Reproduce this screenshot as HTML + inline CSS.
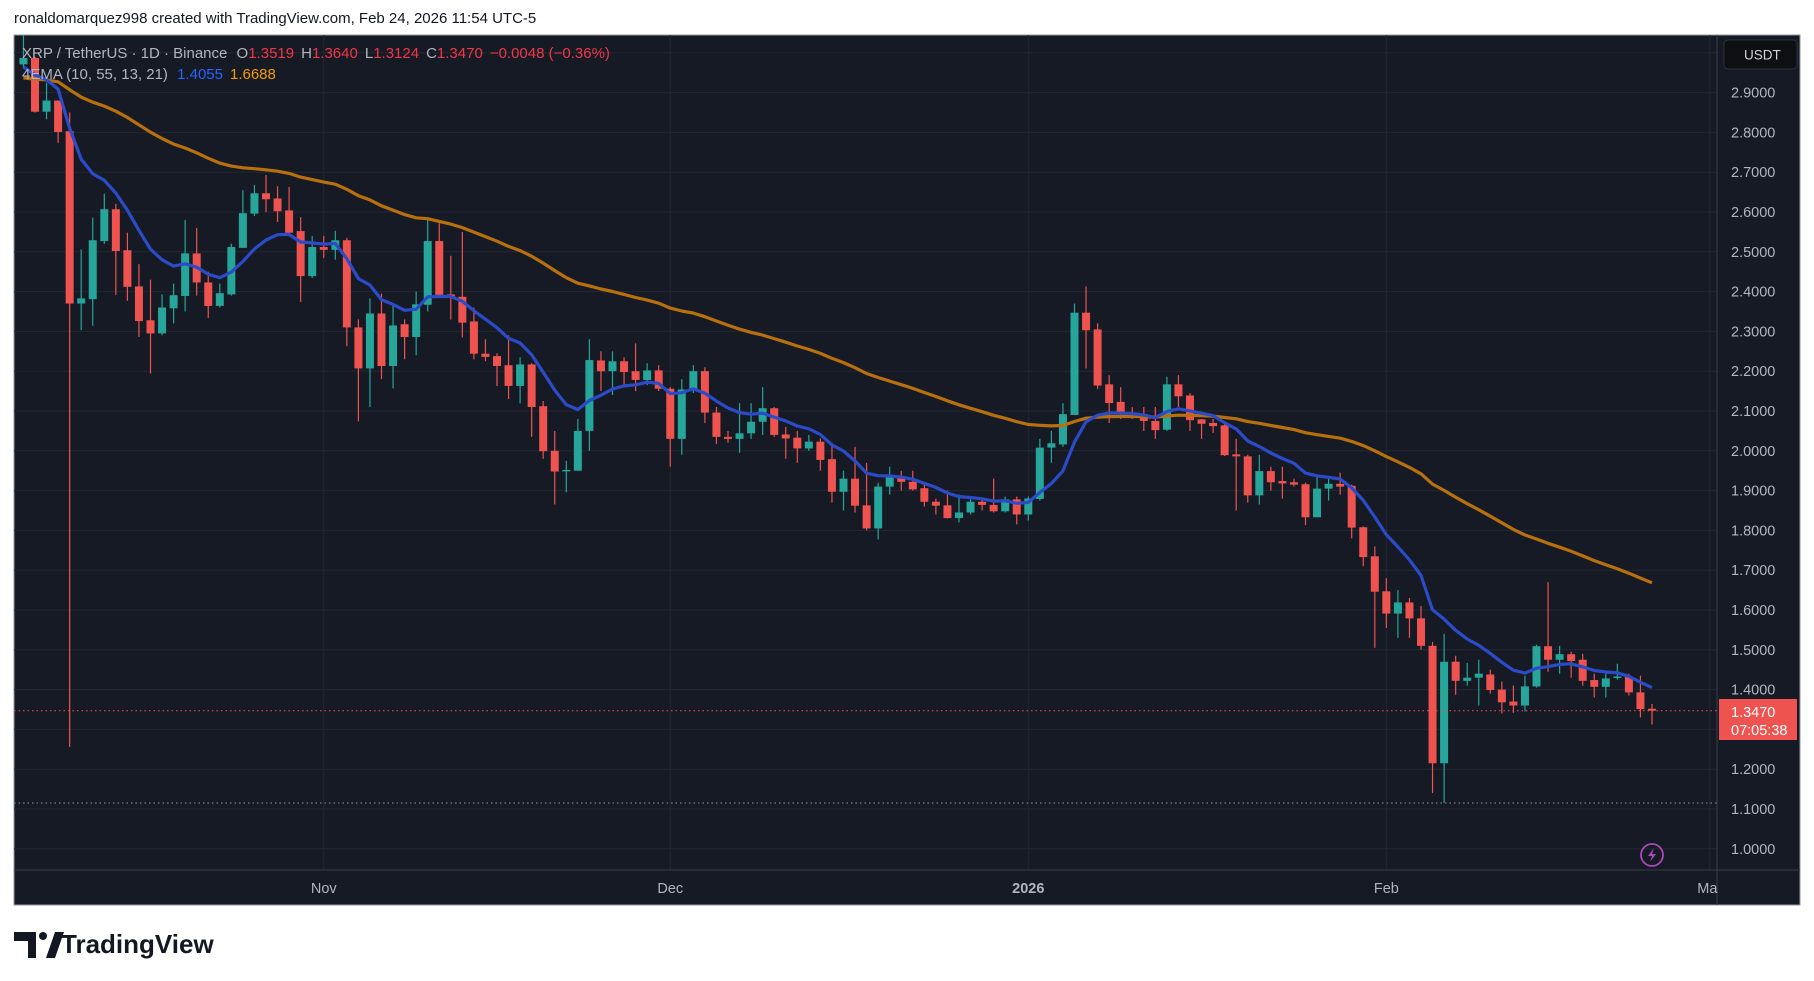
<!DOCTYPE html>
<html><head><meta charset="utf-8">
<style>
html,body{margin:0;padding:0;background:#fff;width:1814px;height:981px;overflow:hidden;font-family:"Liberation Sans",sans-serif;}
#hdr{position:absolute;left:14px;top:10px;font-size:15px;color:#131722;}
svg{position:absolute;left:0;top:0;}
</style></head><body>
<div id="hdr">ronaldomarquez998 created with TradingView.com, Feb 24, 2026 11:54 UTC-5</div>
<svg id="s" width="1814" height="981" xmlns="http://www.w3.org/2000/svg"></svg>
<script>
const D=[
[2.971,3.046,2.96,2.987],[2.987,2.99,2.85,2.852],[2.852,2.925,2.833,2.880],[2.880,2.88,2.774,2.801],[2.803,2.85,1.256,2.370],
[2.370,2.506,2.303,2.383],[2.381,2.586,2.314,2.529],[2.527,2.646,2.52,2.607],[2.607,2.62,2.392,2.502],[2.504,2.548,2.377,2.412],
[2.413,2.469,2.286,2.326],[2.328,2.43,2.194,2.295],[2.295,2.393,2.29,2.360],[2.358,2.42,2.32,2.391],[2.389,2.58,2.35,2.496],
[2.496,2.56,2.39,2.423],[2.423,2.45,2.334,2.364],[2.364,2.42,2.36,2.396],[2.393,2.52,2.39,2.512],[2.51,2.655,2.51,2.597],
[2.596,2.668,2.59,2.647],[2.647,2.693,2.60,2.632],[2.634,2.665,2.575,2.602],[2.604,2.663,2.54,2.548],[2.552,2.587,2.374,2.439],
[2.439,2.54,2.434,2.512],
[2.512,2.54,2.484,2.505],[2.505,2.553,2.48,2.529],[2.529,2.535,2.263,2.31],[2.31,2.33,2.074,2.207],[2.207,2.383,2.11,2.345],
[2.345,2.395,2.18,2.213],[2.213,2.37,2.157,2.315],[2.318,2.33,2.23,2.286],[2.286,2.40,2.24,2.368],[2.367,2.582,2.35,2.527],
[2.527,2.572,2.385,2.392],[2.393,2.49,2.33,2.387],[2.387,2.55,2.285,2.322],[2.325,2.36,2.23,2.244],[2.244,2.28,2.225,2.236],
[2.238,2.245,2.163,2.213],[2.215,2.29,2.13,2.163],[2.163,2.235,2.119,2.217],[2.217,2.22,2.035,2.110],[2.112,2.125,1.98,1.999],
[2.0,2.05,1.865,1.948],[1.95,1.975,1.896,1.952],[1.95,2.08,1.95,2.05],[2.05,2.28,2.0,2.228],[2.227,2.25,2.15,2.2],
[2.2,2.25,2.14,2.225],[2.225,2.235,2.165,2.198],[2.2,2.27,2.15,2.178],[2.178,2.22,2.165,2.202],[2.202,2.215,2.15,2.156],
[2.156,2.16,1.96,2.03],[2.03,2.18,1.99,2.154],[2.154,2.215,2.145,2.2],[2.2,2.21,2.07,2.096],[2.096,2.11,2.017,2.035],
[2.035,2.05,2.02,2.03],[2.03,2.12,1.995,2.044],[2.044,2.12,2.03,2.073],[2.073,2.16,2.04,2.107],[2.107,2.11,2.035,2.04],
[2.041,2.06,1.98,2.031],[2.033,2.05,1.97,2.006],[2.006,2.04,2.0,2.023],[2.023,2.031,1.95,1.977],[1.979,2.02,1.87,1.897],
[1.897,1.95,1.85,1.93],[1.93,2.01,1.845,1.862],[1.863,1.97,1.80,1.805],[1.805,1.92,1.777,1.91],[1.91,1.96,1.89,1.933],
[1.933,1.95,1.9,1.922],[1.922,1.95,1.9,1.903],[1.906,1.915,1.86,1.872],[1.872,1.88,1.84,1.862],[1.863,1.9,1.83,1.831],
[1.831,1.89,1.82,1.845],[1.845,1.885,1.84,1.872],[1.872,1.88,1.85,1.864],[1.864,1.93,1.845,1.848],[1.848,1.885,1.845,1.878],
[1.878,1.885,1.815,1.84],
[1.84,1.885,1.825,1.88],[1.879,2.03,1.875,2.008],[2.008,2.05,1.97,2.019],[2.016,2.12,2.01,2.092],[2.09,2.37,2.09,2.347],
[2.347,2.413,2.207,2.303],[2.305,2.32,2.155,2.164],[2.167,2.19,2.07,2.12],[2.123,2.16,2.08,2.094],[2.096,2.11,2.08,2.087],
[2.092,2.11,2.05,2.075],[2.075,2.11,2.03,2.052],[2.053,2.186,2.05,2.167],[2.167,2.19,2.11,2.137],[2.139,2.145,2.05,2.077],
[2.079,2.08,2.03,2.068],[2.07,2.08,2.045,2.062],[2.064,2.07,1.987,1.989],[1.991,2.03,1.85,1.986],[1.986,1.99,1.87,1.888],
[1.888,1.99,1.865,1.949],[1.949,1.96,1.90,1.921],[1.924,1.96,1.88,1.918],[1.921,1.93,1.91,1.915],[1.916,1.92,1.813,1.833],
[1.833,1.94,1.833,1.905],[1.905,1.93,1.875,1.917],[1.917,1.945,1.89,1.91],[1.912,1.915,1.78,1.807],[1.808,1.81,1.71,1.733],
[1.735,1.76,1.505,1.646],
[1.647,1.68,1.555,1.591],[1.591,1.65,1.53,1.619],[1.619,1.63,1.53,1.579],[1.579,1.61,1.50,1.51],[1.51,1.52,1.14,1.215],
[1.215,1.54,1.115,1.47],[1.47,1.485,1.387,1.422],[1.422,1.467,1.41,1.43],[1.43,1.475,1.36,1.44],[1.438,1.45,1.39,1.399],
[1.4,1.42,1.34,1.368],[1.37,1.41,1.342,1.36],[1.36,1.435,1.345,1.408],[1.408,1.513,1.405,1.509],[1.509,1.67,1.445,1.475],
[1.475,1.51,1.44,1.489],[1.489,1.495,1.43,1.472],[1.475,1.49,1.41,1.422],[1.424,1.44,1.38,1.407],[1.407,1.44,1.38,1.428],
[1.43,1.465,1.425,1.433],[1.433,1.44,1.385,1.393],[1.393,1.435,1.33,1.351],[1.3519,1.364,1.3124,1.347]
];
const N=D.length;
const Y=p=>92.6+(2.9-p)*398;
const X=i=>1652-(N-1-i)*11.55;
let h='';
h+='<rect x="14" y="35" width="1786" height="870" fill="#161a25" stroke="#9598a1" stroke-width="1"/>';
h+='<defs><clipPath id="c"><rect x="14" y="35" width="1703" height="835"/></clipPath></defs>';
for(let k=0;k<=22;k++){const p=3.0-k*0.1;const y=Y(p);if(y>36&&y<870)h+=`<line x1="14" x2="1717" y1="${y}" y2="${y}" stroke="#232733" stroke-width="1"/>`;}
const months=[[26,'Nov'],[56,'Dec'],[87,'2026'],[118,'Feb'],[146,'Mar']];
months.forEach(m=>{const x=X(m[0]);h+=`<line x1="${x}" x2="${x}" y1="35" y2="870" stroke="#232733"/>`;});
h+='<g clip-path="url(#c)">';
for(let i=0;i<N;i++){const [o,hi,lo,c]=D[i];const col=c>=o?'#26a69a':'#ef5350';const x=X(i);
h+=`<line x1="${x}" x2="${x}" y1="${Y(hi)}" y2="${Y(lo)}" stroke="${col}" stroke-width="1.2"/>`;
const t=Y(Math.max(o,c)),b=Y(Math.min(o,c));h+=`<rect x="${x-4}" y="${t}" width="8" height="${Math.max(1.5,b-t)}" fill="${col}"/>`;}
function ema(n,seed){let e=seed,a=2/(n+1),pts=[];for(let i=0;i<N;i++){e=D[i][3]*a+e*(1-a);pts.push(X(i).toFixed(1)+','+Y(e).toFixed(1));}return pts.join(' ');}
h+=`<polyline points="${ema(55,2.935)}" fill="none" stroke="#b8700f" stroke-width="3.2" stroke-linejoin="round"/>`;
h+=`<polyline points="${ema(10,2.96)}" fill="none" stroke="#2b4bc8" stroke-width="3.2" stroke-linejoin="round"/>`;
h+=`<line x1="14" x2="1717" y1="${Y(1.347)}" y2="${Y(1.347)}" stroke="#ef5350" stroke-width="1" stroke-dasharray="1.5,3"/>`;
h+=`<line x1="14" x2="1717" y1="${Y(1.115)}" y2="${Y(1.115)}" stroke="#9598a1" stroke-width="1" stroke-dasharray="1.5,3"/>`;
h+='</g>';
h+='<line x1="1717" x2="1717" y1="35" y2="905" stroke="#3a3e4a"/>';
h+='<line x1="14" x2="1800" y1="870" y2="870" stroke="#3a3e4a"/>';
for(let k=0;k<=19;k++){const p=2.9-k*0.1;if(Math.abs(p-1.3)<0.01)continue;h+=`<text x="1731" y="${Y(p)+5}" font-size="14.5" fill="#b2b5be" font-family="Liberation Sans">${p.toFixed(4)}</text>`;}
h+='<rect x="1724" y="40" width="73" height="29" rx="4" fill="#0e0f12" stroke="#2f323c"/>';
h+='<text x="1744" y="59.5" font-size="13.5" fill="#d1d4dc">USDT</text>';
h+='<rect x="1719" y="699" width="78" height="41" fill="#ef5350"/>';
h+='<text x="1731" y="717" font-size="14.5" fill="#fff">1.3470</text><text x="1731" y="735" font-size="14.5" fill="#fff">07:05:38</text>';
months.forEach(m=>{const x=X(m[0]);h+=`<text x="${x}" y="893" font-size="14.5" fill="#b2b5be" text-anchor="middle" ${m[1]=='2026'?'font-weight="bold"':''}>${m[1]}</text>`;});
h+='<rect x="1717.5" y="871" width="82" height="33.5" fill="#161a25"/>';
h+='<circle cx="1652" cy="855" r="11" fill="none" stroke="#ab47bc" stroke-width="1.8"/><path d="M1654 848 L1648 856 L1652 856 L1650 862 L1656 854 L1652 854 Z" fill="#ab47bc"/>';
h+=`<text x="22" y="58" font-size="15" fill="#b2b5be">XRP / TetherUS · 1D · Binance <tspan dx="5">O</tspan><tspan fill="#f23645">1.3519</tspan><tspan dx="7">H</tspan><tspan fill="#f23645">1.3640</tspan><tspan dx="7">L</tspan><tspan fill="#f23645">1.3124</tspan><tspan dx="7">C</tspan><tspan fill="#f23645">1.3470</tspan><tspan dx="7" fill="#f23645">−0.0048 (−0.36%)</tspan></text>`;
h+=`<text x="22" y="79" font-size="15" fill="#b2b5be">4EMA (10, 55, 13, 21) <tspan dx="5" fill="#2962ff">1.4055</tspan><tspan dx="7" fill="#f59b00">1.6688</tspan></text>`;
h+='<path d="M14 932 H36 V958 H28 V941 H14 Z" fill="#131722"/><circle cx="43" cy="936" r="4" fill="#131722"/><path d="M46 958 L55 932 H64 L55 958 Z" fill="#131722"/>';
h+='<text x="61" y="953" font-size="26" font-weight="bold" fill="#131722" font-family="Liberation Sans">TradingView</text>';
document.getElementById('s').innerHTML=h;
</script>
</body></html>
